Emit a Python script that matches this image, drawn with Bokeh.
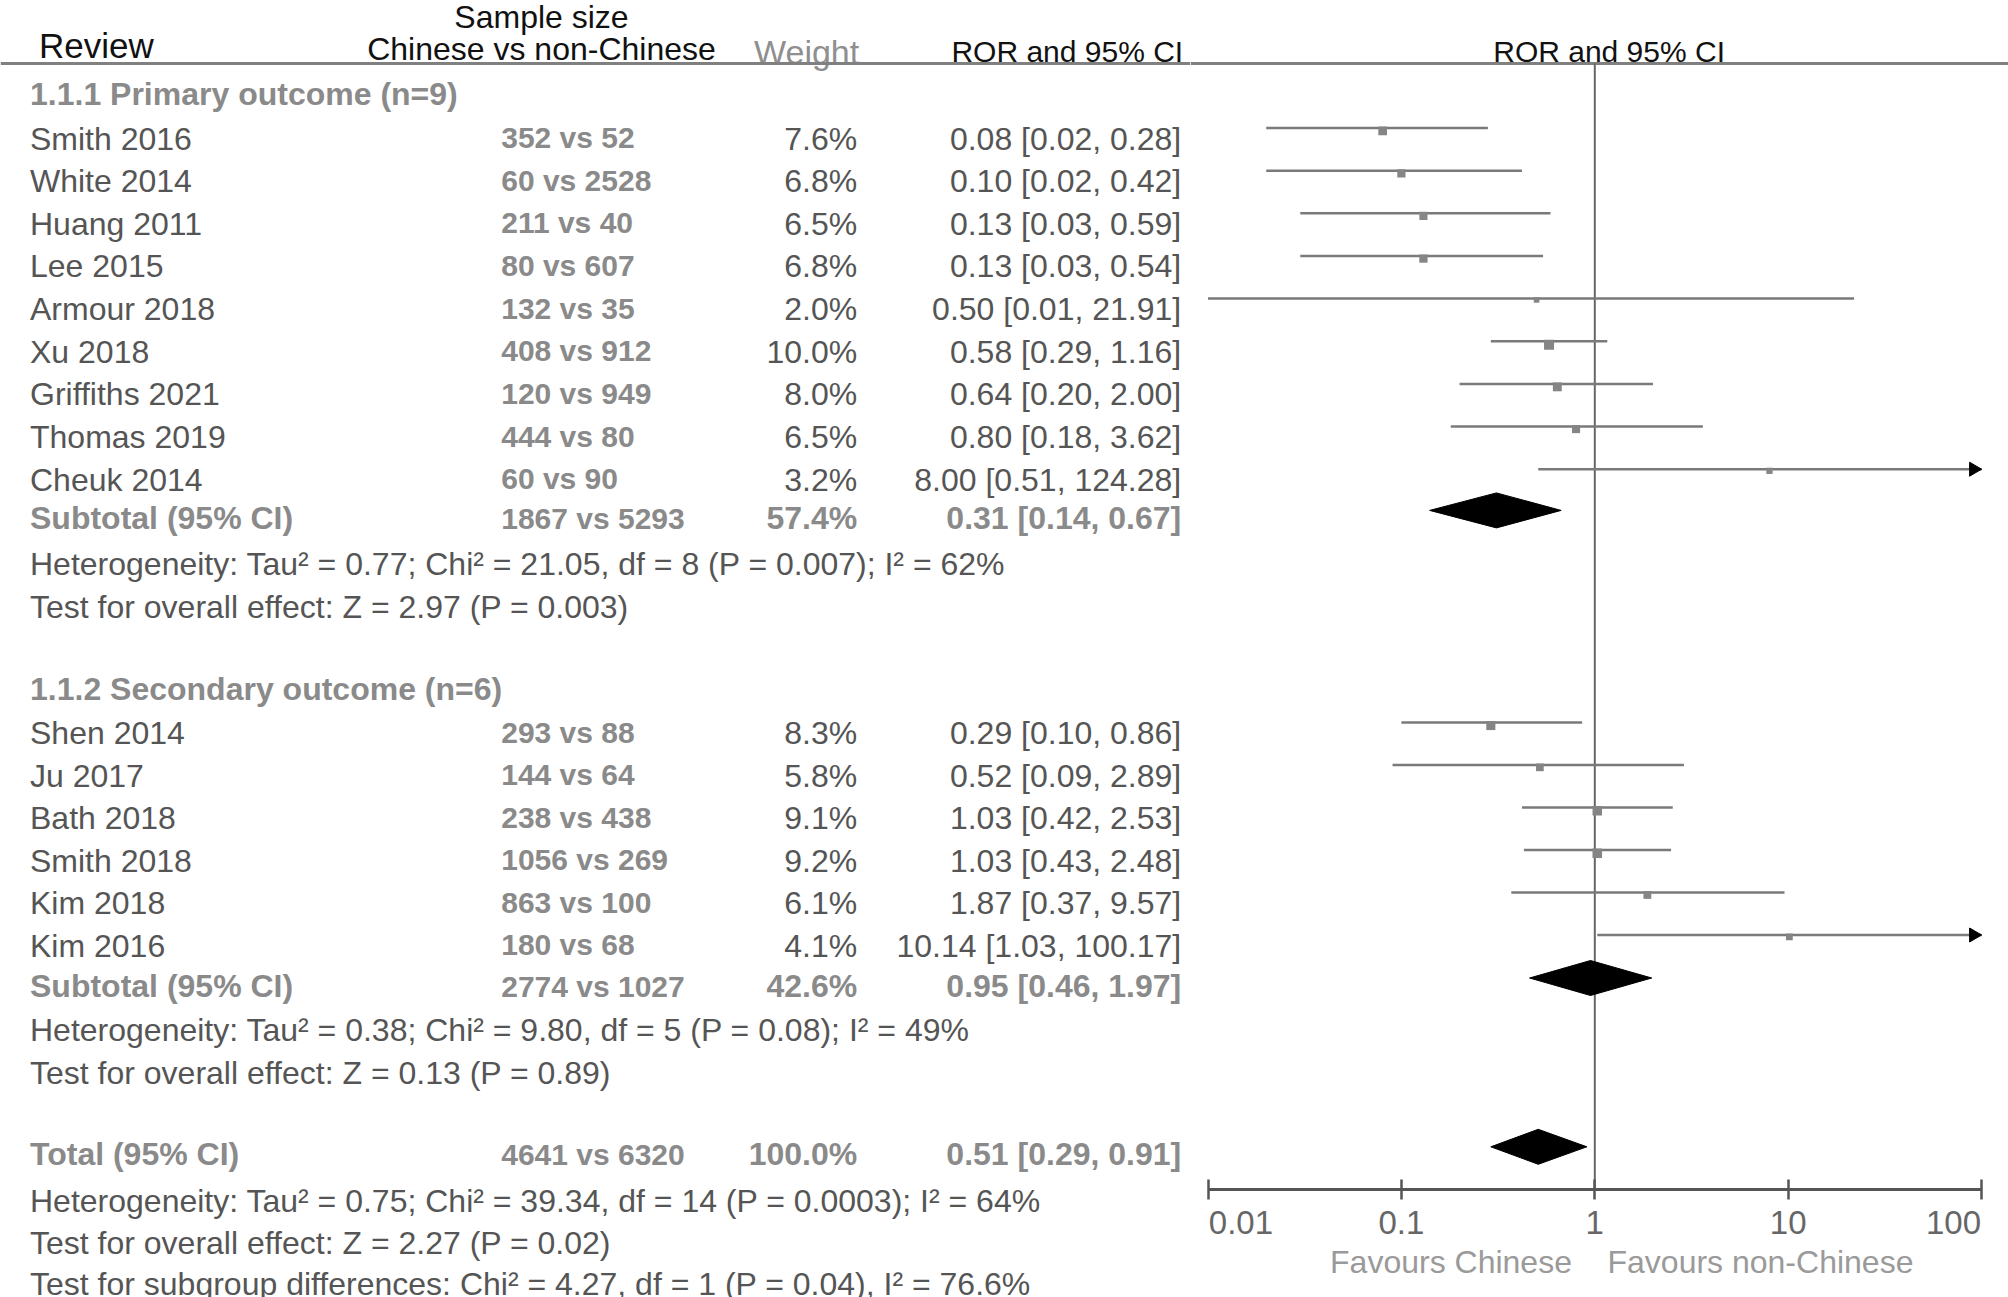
import math
from bokeh.plotting import figure
from bokeh.layouts import row
from bokeh.models import Range1d, FixedTicker, CustomJSTickFormatter, ColumnDataSource
from bokeh.embed import file_html
from bokeh.resources import INLINE
from bokeh.core.properties import value

# ---------------- data ----------------
studies1 = ["Smith 2016", "White 2014", "Huang 2011", "Lee 2015", "Armour 2018",
            "Xu 2018", "Griffiths 2021", "Thomas 2019", "Cheuk 2014"]
n1_chinese = [352, 60, 211, 80, 132, 408, 120, 444, 60]
n1_other = [52, 2528, 40, 607, 35, 912, 949, 80, 90]
weight1 = [7.6, 6.8, 6.5, 6.8, 2.0, 10.0, 8.0, 6.5, 3.2]
ror1 = [0.08, 0.10, 0.13, 0.13, 0.50, 0.58, 0.64, 0.80, 8.00]
lo1 = [0.02, 0.02, 0.03, 0.03, 0.01, 0.29, 0.20, 0.18, 0.51]
hi1 = [0.28, 0.42, 0.59, 0.54, 21.91, 1.16, 2.00, 3.62, 124.28]

studies2 = ["Shen 2014", "Ju 2017", "Bath 2018", "Smith 2018", "Kim 2018", "Kim 2016"]
n2_chinese = [293, 144, 238, 1056, 863, 180]
n2_other = [88, 64, 438, 269, 100, 68]
weight2 = [8.3, 5.8, 9.1, 9.2, 6.1, 4.1]
ror2 = [0.29, 0.52, 1.03, 1.03, 1.87, 10.14]
lo2 = [0.10, 0.09, 0.42, 0.43, 0.37, 1.03]
hi2 = [0.86, 2.89, 2.53, 2.48, 9.57, 100.17]

# subtotals / total: (n chinese, n other, weight, ror, lo, hi)
sub1 = (1867, 5293, 57.4, 0.31, 0.14, 0.67)
sub2 = (2774, 1027, 42.6, 0.95, 0.46, 1.97)
total = (4641, 6320, 100.0, 0.51, 0.29, 0.91)

group1_title = "1.1.1 Primary outcome (n=9)"
group2_title = "1.1.2 Secondary outcome (n=6)"
het1 = "Heterogeneity: Tau\u00b2 = 0.77; Chi\u00b2 = 21.05, df = 8 (P = 0.007); I\u00b2 = 62%"
test1 = "Test for overall effect: Z = 2.97 (P = 0.003)"
het2 = "Heterogeneity: Tau\u00b2 = 0.38; Chi\u00b2 = 9.80, df = 5 (P = 0.08); I\u00b2 = 49%"
test2 = "Test for overall effect: Z = 0.13 (P = 0.89)"
het3 = "Heterogeneity: Tau\u00b2 = 0.75; Chi\u00b2 = 39.34, df = 14 (P = 0.0003); I\u00b2 = 64%"
test3 = "Test for overall effect: Z = 2.27 (P = 0.02)"
test_sub = "Test for subgroup differences: Chi\u00b2 = 4.27, df = 1 (P = 0.04), I\u00b2 = 76.6%"

axis_ticks = [0.01, 0.1, 1, 10, 100]
favours_left = "Favours Chinese"
favours_right = "Favours non-Chinese"

# ---------------- layout (page pixel coordinates) ----------------
FONT = "Liberation Sans"
FS = "32px"
X_NAME, X_N, X_W, X_ROR = 29.5, 500.7, 856.7, 1180.7
Y_HEAD_LINE = 63
rows1_y = [138 + 42.65 * i for i in range(len(studies1))]
rows2_y = [732.5 + 42.5 * i for i in range(len(studies2))]
Y_G1, Y_SUB1, Y_HET1, Y_TEST1 = 93.5, 517.4, 563, 606
Y_G2, Y_SUB2, Y_HET2, Y_TEST2 = 688, 985, 1029.6, 1072
Y_TOT, Y_HET3, Y_TEST3, Y_SG = 1153.8, 1200, 1242, 1283
Y_AXIS = 1189

PAGE_W, PAGE_H = 2008, 1297
SPLIT = 1190          # page x where the forest panel begins
X_ONE = 1594.3        # page x of ROR = 1
DEC = 193.4           # pixels per decade

C_DARK = "#555555"
C_GREY = "#8a8a8a"

# ---------------- left (table) figure ----------------
pl = figure(width=SPLIT, height=PAGE_H, x_range=Range1d(0, SPLIT), y_range=Range1d(PAGE_H, 0),
            output_backend="svg", toolbar_location=None, min_border=0,
            x_axis_location=None, y_axis_location=None)
pl.outline_line_color = None
pl.grid.visible = False
pl.frame_align = False


def txt(fig, xs, ys, texts, color, size=FS, align="left", style="normal"):
    src = ColumnDataSource(dict(x=xs, y=ys, t=texts))
    fig.text(x="x", y="y", text="t", source=src, text_font=value(FONT), text_font_size=size,
             text_color=color, text_align=align, text_baseline="middle", text_font_style=style)


# headers
txt(pl, [38.4], [44.8], ["Review"], "#111111", size="35px")
txt(pl, [541], [16.5], ["Sample size"], "#111111", align="center")
txt(pl, [541], [48.7], ["Chinese vs non-Chinese"], "#111111", align="center")
txt(pl, [X_W + 2], [51.2], ["Weight"], "#8f8f8f", size="34px", align="right")
txt(pl, [X_ROR + 2], [51.2], ["ROR and 95% CI"], "#111111", size="30px", align="right")
pl.segment(x0=[0], y0=[Y_HEAD_LINE], x1=[SPLIT], y1=[Y_HEAD_LINE], line_color="#808080", line_width=3)

fmt_ror = lambda r, l, h: f"{r:.2f} [{l:.2f}, {h:.2f}]"

for title, ty, st, nc, no, w, r, l, h, sub, ys, hy, het, het_y, test, test_y in [
        (group1_title, Y_G1, studies1, n1_chinese, n1_other, weight1, ror1, lo1, hi1, sub1, rows1_y,
         Y_SUB1, het1, Y_HET1, test1, Y_TEST1),
        (group2_title, Y_G2, studies2, n2_chinese, n2_other, weight2, ror2, lo2, hi2, sub2, rows2_y,
         Y_SUB2, het2, Y_HET2, test2, Y_TEST2)]:
    txt(pl, [X_NAME], [ty], [title], C_GREY, style="bold")
    txt(pl, [X_NAME] * len(st), ys, st, C_DARK)
    txt(pl, [X_N] * len(st), [y - 1 for y in ys], [f"{a} vs {b}" for a, b in zip(nc, no)], C_GREY,
        size="30px", style="bold")
    txt(pl, [X_W] * len(st), ys, [f"{v:.1f}%" for v in w], C_DARK, align="right")
    txt(pl, [X_ROR] * len(st), ys, [fmt_ror(a, b, c) for a, b, c in zip(r, l, h)], C_DARK, align="right")
    txt(pl, [X_NAME], [hy], ["Subtotal (95% CI)"], C_GREY, style="bold")
    txt(pl, [X_N], [hy + 1], [f"{sub[0]} vs {sub[1]}"], C_GREY, size="30px", style="bold")
    txt(pl, [X_W], [hy], [f"{sub[2]:.1f}%"], C_GREY, align="right", style="bold")
    txt(pl, [X_ROR], [hy], [fmt_ror(sub[3], sub[4], sub[5])], C_GREY, align="right", style="bold")
    txt(pl, [X_NAME], [het_y], [het], C_DARK)
    txt(pl, [X_NAME], [test_y], [test], C_DARK)

txt(pl, [X_NAME], [Y_TOT], ["Total (95% CI)"], C_GREY, style="bold")
txt(pl, [X_N], [Y_TOT], [f"{total[0]} vs {total[1]}"], C_GREY, size="30px", style="bold")
txt(pl, [X_W], [Y_TOT], [f"{total[2]:.1f}%"], C_GREY, align="right", style="bold")
txt(pl, [X_ROR], [Y_TOT], [fmt_ror(total[3], total[4], total[5])], C_GREY, align="right", style="bold")
txt(pl, [X_NAME] * 3, [Y_HET3, Y_TEST3, Y_SG], [het3, test3, test_sub], C_DARK)

# ---------------- right (forest) figure ----------------
xlo = 10 ** (-(X_ONE - SPLIT) / DEC)
xhi = 10 ** ((PAGE_W - X_ONE) / DEC)
pr = figure(width=PAGE_W - SPLIT, height=PAGE_H, x_axis_type="log", x_range=Range1d(xlo, xhi),
            y_range=Range1d(Y_AXIS, 0), output_backend="svg", toolbar_location=None,
            min_border=0, min_border_bottom=PAGE_H - Y_AXIS, y_axis_location=None)
pr.outline_line_color = None
pr.grid.visible = False
pr.frame_align = False

pr.segment(x0=[xlo], y0=[Y_HEAD_LINE], x1=[xhi], y1=[Y_HEAD_LINE], line_color="#808080", line_width=3)
txt(pr, [10 ** ((1608.6 - X_ONE) / DEC)], [51.2], ["ROR and 95% CI"], "#111111", size="30px", align="center")
pr.segment(x0=[1], y0=[Y_HEAD_LINE], x1=[1], y1=[Y_AXIS], line_color="#666666", line_width=2)

all_r = ror1 + ror2
all_l = lo1 + lo2
all_h = hi1 + hi2
all_w = weight1 + weight2
line_y = [y - 10.5 for y in rows1_y + rows2_y]
axis_max = axis_ticks[-1]
pr.segment(x0=all_l, y0=line_y, x1=[min(h, axis_max) for h in all_h], y1=line_y,
           line_color="#7a7a7a", line_width=2.5)
sizes = [4.5 + 0.55 * w for w in all_w]
pr.scatter(x=all_r, y=[y + s / 2 - 1.5 for y, s in zip(line_y, sizes)], size=sizes, marker="square",
           fill_color="#858585", line_color=None)

# arrows for CIs beyond the axis
k = 10 ** (12 / DEC)
ax_xs, ax_ys = [], []
for h, y in zip(all_h, line_y):
    if h > axis_max:
        ax_xs.append([axis_max / k, axis_max, axis_max / k])
        ax_ys.append([y - 7, y, y + 7])
pr.patches(xs=ax_xs, ys=ax_ys, fill_color="black", line_color="black")

# diamonds
d_xs, d_ys = [], []
for s, yc in [(sub1, Y_SUB1 - 7.5), (sub2, Y_SUB2 - 7.5), (total, Y_TOT - 7.5)]:
    d_xs.append([s[4], s[3], s[5], s[3]])
    d_ys.append([yc, yc - 17.5, yc, yc + 17.5])
pr.patches(xs=d_xs, ys=d_ys, fill_color="black", line_color="black", line_width=1)

ax = pr.xaxis[0]
ax.bounds = (axis_ticks[0], axis_ticks[-1])
ax.ticker = FixedTicker(ticks=axis_ticks)
# first label sits right of its tick, last label left of its tick (as in the reference)
ax.formatter = CustomJSTickFormatter(code="""
const nb = '\\u00a0';
let s = tick.toString();
if (index === 0) s = nb + nb + s;
if (index === ticks.length - 1) s = s + nb + nb + nb;
return s;
""")
ax.axis_line_color = "#555555"
ax.axis_line_width = 3
ax.major_tick_line_color = "#555555"
ax.major_tick_line_width = 2.5
ax.major_tick_in = 10
ax.major_tick_out = 10
ax.minor_tick_in = 0
ax.minor_tick_out = 0
ax.minor_tick_line_color = None
ax.major_label_text_font = FONT
ax.major_label_text_font_size = "33px"
ax.major_label_text_color = "#666666"
ax.major_label_standoff = 4
nb = "\u00a0"
ax.axis_label = nb * 5 + favours_left + nb * 4 + favours_right
ax.axis_label_text_font = FONT
ax.axis_label_text_font_size = FS
ax.axis_label_text_font_style = "normal"
ax.axis_label_text_color = "#9a9a9a"
ax.axis_label_standoff = 0

layout = row(pl, pr, spacing=0)
open("out.html", "w").write(file_html(layout, INLINE))
